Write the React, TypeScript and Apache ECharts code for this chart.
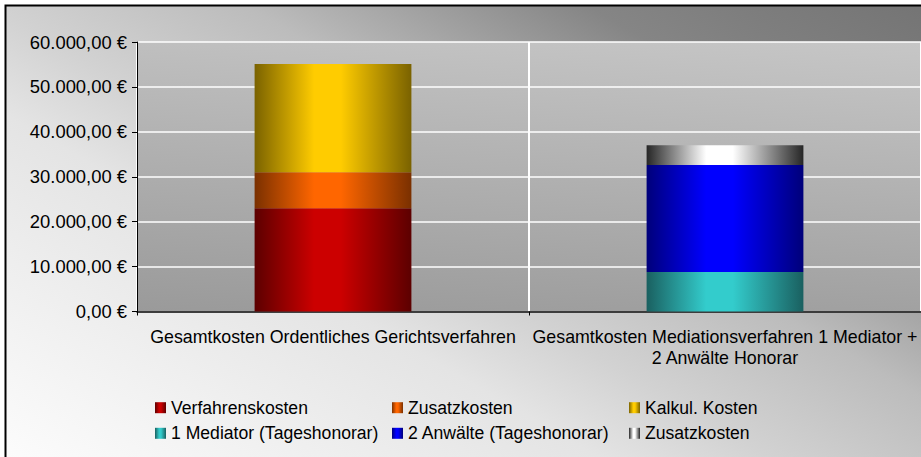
import React, { useEffect, useRef } from "react";
import * as echarts from "echarts";

// ---- data ----
const categories = [
  "Gesamtkosten Ordentliches Gerichtsverfahren",
  "Gesamtkosten Mediationsverfahren 1 Mediator + 2 Anwälte Honorar",
];
const verfahrenskosten = [23000, null];
const zusatzkostenGericht = [8000, null];
const kalkulKosten = [24100, null];
const mediatorHonorar = [null, 8800];
const anwaelteHonorar = [null, 23800];
const zusatzkostenMediation = [null, 4400];

const seriesNames = [
  "Verfahrenskosten",
  "Zusatzkosten",
  "Kalkul. Kosten",
  "1 Mediator (Tageshonorar)",
  "2 Anwälte (Tageshonorar)",
  "Zusatzkosten (Mediation)",
];
const legendLabels = [
  "Verfahrenskosten",
  "Zusatzkosten",
  "Kalkul. Kosten",
  "1 Mediator (Tageshonorar)",
  "2 Anwälte (Tageshonorar)",
  "Zusatzkosten",
];
const yMin = 0;
const yMax = 60000;
const yInterval = 10000;

// ---- styling ----
const FONT = "'Liberation Sans', Arial, sans-serif";
const barColors: [string, string][] = [
  ["#5c0000", "#cc0000"],
  ["#7a3000", "#ff6600"],
  ["#7a6200", "#ffcc00"],
  ["#1a6060", "#33cccc"],
  ["#00007a", "#0000ff"],
  ["#262626", "#ffffff"],
];

function hGrad(dark: string, bright: string) {
  return new echarts.graphic.LinearGradient(0, 0, 1, 0, [
    { offset: 0, color: dark },
    { offset: 0.38, color: bright },
    { offset: 0.55, color: bright },
    { offset: 1, color: dark },
  ]);
}

function fmtEuro(v: number) {
  const s = Math.round(v)
    .toString()
    .replace(/\B(?=(\d{3})+(?!\d))/g, ".");
  return s + ",00 €";
}

export default function App() {
  const ref = useRef<HTMLDivElement>(null);
  useEffect(() => {
    if (!ref.current) return;
    const chart = echarts.init(ref.current, undefined, { renderer: "svg" });

    const bgGrad = new echarts.graphic.LinearGradient(
      0,
      457,
      428,
      -284,
      [
        { offset: 0, color: "#fcfcfc" },
        { offset: 0.35, color: "#e4e4e4" },
        { offset: 0.45, color: "#d2d2d2" },
        { offset: 0.6, color: "#bcbcbc" },
        { offset: 0.8, color: "#858585" },
        { offset: 1, color: "#747474" },
      ],
      true
    );
    const plotGrad = new echarts.graphic.LinearGradient(0, 1, 0.4, -1.0, [
      { offset: 0, color: "#9a9a9a" },
      { offset: 0.6, color: "#c8c8c8" },
      { offset: 1, color: "#dcdcdc" },
    ]);

    const data = [
      verfahrenskosten,
      zusatzkostenGericht,
      kalkulKosten,
      mediatorHonorar,
      anwaelteHonorar,
      zusatzkostenMediation,
    ];

    const series = seriesNames.map((name, i) => ({
      name,
      type: "bar",
      stack: "total",
      barWidth: "40%",
      data: data[i],
      itemStyle: { color: hGrad(barColors[i][0], barColors[i][1]) },
    }));

    const legend = seriesNames.map((name, i) => ({
      data: [name],
      left: 155 + (i % 3) * 237,
      top: 397.7 + Math.floor(i / 3) * 25.6,
      padding: 0,
      icon: "rect",
      itemWidth: 11,
      itemHeight: 11,
      selectedMode: false,
      formatter: () => legendLabels[i],
      textStyle: {
        fontFamily: FONT,
        fontSize: 17.6,
        lineHeight: 20,
        color: "#000",
      },
    }));

    chart.setOption({
      animation: false,
      backgroundColor: "#ffffff",
      graphic: [
        {
          type: "rect",
          z: -10,
          silent: true,
          shape: { x: 5.5, y: 5.5, width: 1000, height: 1000 },
          style: { fill: bgGrad, stroke: "#000", lineWidth: 2 },
        },
      ],
      grid: {
        left: 137,
        top: 42,
        right: 0,
        bottom: 145.5,
        show: true,
        backgroundColor: plotGrad,
        borderWidth: 0,
      },
      legend,
      xAxis: {
        type: "category",
        data: categories,
        axisLine: { lineStyle: { color: "#000", width: 1.5 } },
        axisTick: { show: true, length: 4, lineStyle: { color: "#000" } },
        splitLine: { show: true, interval: 0, lineStyle: { color: "#ffffff", width: 2 } },
        axisLabel: {
          interval: 0,
          margin: 15,
          fontFamily: FONT,
          fontSize: 17.8,
          lineHeight: 21,
          color: "#000",
          formatter: (v: string) => v.replace(" + ", " +\n"),
        },
      },
      yAxis: {
        type: "value",
        min: yMin,
        max: yMax,
        interval: yInterval,
        axisLine: { show: true, lineStyle: { color: "#000", width: 1 } },
        axisTick: { show: true, length: 5, lineStyle: { color: "#000" } },
        splitLine: { show: true, lineStyle: { color: "#ffffff", width: 1.5 } },
        axisLabel: {
          margin: 10,
          fontFamily: FONT,
          fontSize: 18.4,
          color: "#000",
          formatter: (v: number) => fmtEuro(v),
        },
      },
      series,
    });
    return () => chart.dispose();
  }, []);
  return (
    <div
      ref={ref}
      style={{ position: "absolute", left: 0, top: 0, width: 921, height: 457 }}
    />
  );
}
